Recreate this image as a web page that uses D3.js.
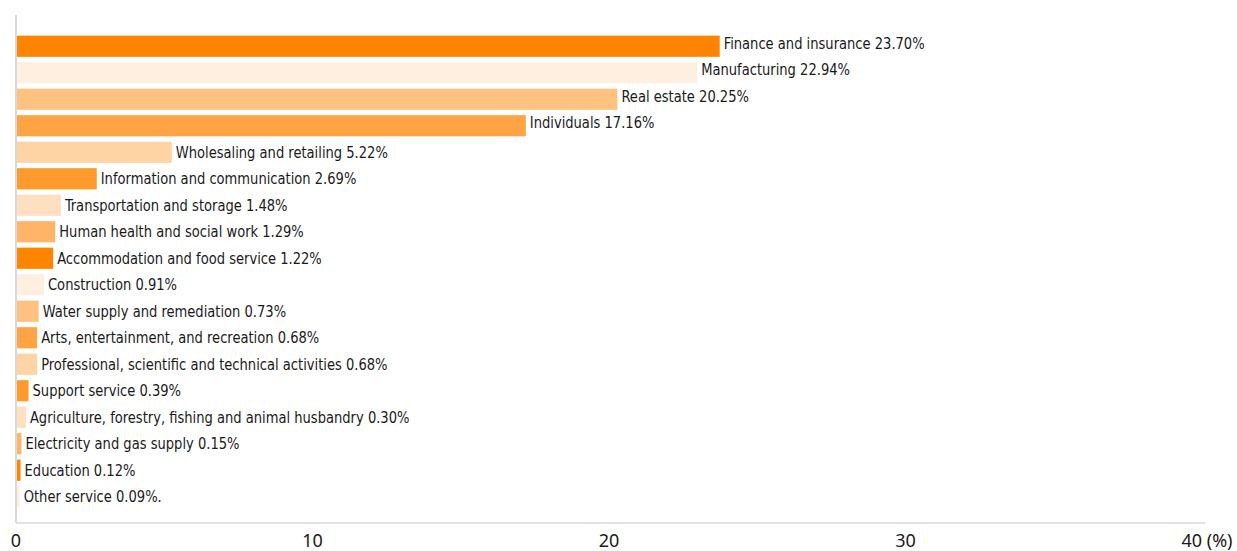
<!DOCTYPE html>
<html>
<head>
<meta charset="utf-8">
<script src="https://cdn.jsdelivr.net/npm/d3@7"></script>
<style>
  body { margin: 0; background: #fff; }
  svg { display: block; }
</style>
</head>
<body>
<div id="chart"></div>
<script>
const categories = [
  "Finance and insurance", "Manufacturing", "Real estate", "Individuals",
  "Wholesaling and retailing", "Information and communication", "Transportation and storage",
  "Human health and social work", "Accommodation and food service", "Construction",
  "Water supply and remediation", "Arts, entertainment, and recreation",
  "Professional, scientific and technical activities", "Support service",
  "Agriculture, forestry, fishing and animal husbandry", "Electricity and gas supply",
  "Education", "Other service"
];
const shares = [23.70, 22.94, 20.25, 17.16, 5.22, 2.69, 1.48, 1.29, 1.22, 0.91, 0.73, 0.68, 0.68, 0.39, 0.30, 0.15, 0.12, 0.09];
const tickValues = [0, 10, 20, 30, 40];
const palette = ["#ff8500", "#feefe0", "#fdc280", "#ffa444", "#fed4a4", "#ff9a2c", "#fee0c0", "#ffb468"];

const width = 1237, height = 551;
const svg = d3.select("#chart").append("svg").attr("width", width).attr("height", height);

const x = d3.scaleLinear().domain([0, 40]).range([16, 1202]);
const y = d3.scaleBand().domain(categories).range([33, 510]).paddingInner(0.2).paddingOuter(0.1);

// axis lines
svg.append("line")
  .attr("x1", 16).attr("x2", 16).attr("y1", 15).attr("y2", 523)
  .attr("stroke", "#d9d9d9").attr("stroke-width", 2);
svg.append("line")
  .attr("x1", 16).attr("x2", 1205).attr("y1", 523).attr("y2", 523)
  .attr("stroke", "#d9d9d9").attr("stroke-width", 1.5);

// bars
svg.selectAll("rect.bar")
  .data(categories)
  .enter().append("rect")
  .attr("class", "bar")
  .attr("x", x(0) + 1)
  .attr("y", d => y(d))
  .attr("width", (d, i) => x(shares[i]) - x(0))
  .attr("height", y.bandwidth())
  .attr("fill", (d, i) => palette[i % palette.length]);

// labels (squeezed a bit to mimic the condensed face of the original)
svg.selectAll("text.lbl")
  .data(categories)
  .enter().append("text")
  .attr("class", "lbl")
  .attr("transform", (d, i) => {
    const tx = x(shares[i]) + 5;
    const ty = y(d) + y.bandwidth() / 2 - (i < 4 ? 3 : 0);
    return `translate(${tx},${ty}) scale(0.91,1)`;
  })
  .attr("dy", "0.35em")
  .style("font-family", "'Liberation Sans Narrow', 'DejaVu Sans Condensed', sans-serif")
  .style("font-size", "16px")
  .attr("fill", "#1a1a1a")
  .text((d, i) => d + " " + shares[i].toFixed(2) + "%" + (i === categories.length - 1 ? "." : ""));

// tick labels
svg.selectAll("text.tick")
  .data(tickValues)
  .enter().append("text")
  .attr("class", "tick")
  .attr("x", d => d === 40 ? 1207 : x(d))
  .attr("y", 541)
  .attr("dy", "0.35em")
  .attr("text-anchor", "middle")
  .style("font-family", "'Noto Sans', sans-serif")
  .style("font-size", "18px")
  .attr("fill", "#1a1a1a")
  .text(d => d === 40 ? d + " (%)" : d);
</script>
</body>
</html>
